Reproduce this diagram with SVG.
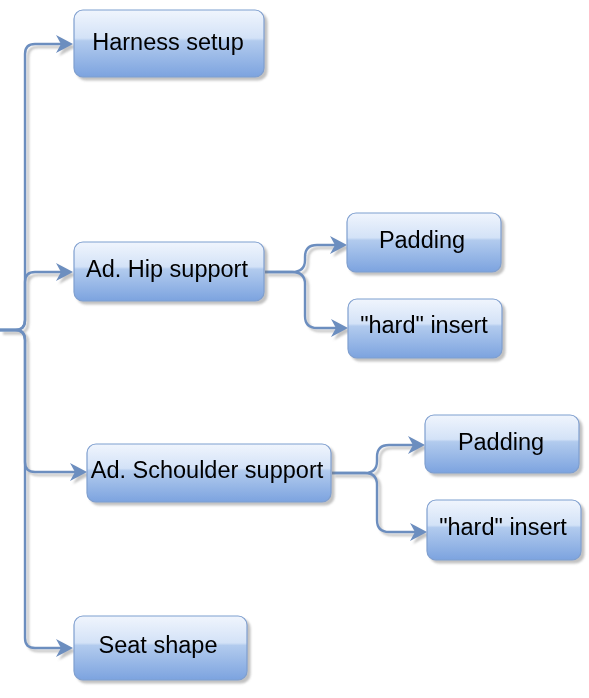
<svg xmlns="http://www.w3.org/2000/svg" width="589" height="698" viewBox="0 0 589 698">
  <style>
    .box { fill: url(#glass); stroke: #7f9fcf; stroke-width: 1.2; }
    .lbl { font-family: "Liberation Sans", Arial, Helvetica, sans-serif; font-size: 23.5px; fill: #000; text-anchor: middle; }
    .edge { fill: none; stroke: #6c8ebf; stroke-width: 2.4; marker-end: url(#arrow); }
  </style>
  <defs>
    <linearGradient id="glass" x1="0" y1="0" x2="0" y2="1">
      <stop offset="0" stop-color="#f0f5fd"/>
      <stop offset="0.42" stop-color="#d3e2f7"/>
      <stop offset="0.46" stop-color="#b2cbee"/>
      <stop offset="1" stop-color="#7ca3df"/>
    </linearGradient>
    <filter id="shadow" x="-10%" y="-10%" width="130%" height="130%">
      <feDropShadow dx="3" dy="3" stdDeviation="1.2" flood-color="#777" flood-opacity="0.45"/>
    </filter>
    <filter id="lineShadow" x="-10%" y="-10%" width="130%" height="130%">
      <feDropShadow dx="3" dy="3" stdDeviation="0.8" flood-color="#888" flood-opacity="0.5"/>
    </filter>
    <marker id="arrow" markerUnits="userSpaceOnUse" markerWidth="20" markerHeight="20" refX="8" refY="9" orient="auto">
      <path d="M0,0 L17,9 L0,18 L5,9 z" fill="#6c8ebf"/>
    </marker>
  </defs>

  <g id="connectors" filter="url(#lineShadow)">
    <path class="edge" d="M0,330 H15 Q25,330 25,320 V54 Q25,44 35,44 H64"/>
    <path class="edge" d="M0,330 H15 Q25,330 25,320 V282 Q25,272 35,272 H64"/>
    <path class="edge" d="M0,330 H15 Q25,330 25,340 V462 Q25,472 35,472 H78"/>
    <path class="edge" d="M0,330 H15 Q25,330 25,340 V638 Q25,648 35,648 H64"/>
    <path class="edge" d="M265,272 H292 Q305,272 305,260 V257 Q305,245 317,245 H338"/>
    <path class="edge" d="M265,272 H292 Q305,272 305,284 V316 Q305,328 317,328 H339"/>
    <path class="edge" d="M332,473 H365 Q377,473 377,461 V457 Q377,445 389,445 H416"/>
    <path class="edge" d="M332,473 H365 Q377,473 377,485 V520 Q377,532 389,532 H418"/>
  </g>

  <g id="harness-setup" filter="url(#shadow)">
    <rect class="box" x="74" y="10" width="190" height="67" rx="9"/>
    <text class="lbl" x="168" y="50">Harness setup</text>
  </g>
  <g id="hip-support" filter="url(#shadow)">
    <rect class="box" x="74" y="242" width="190" height="59" rx="9"/>
    <text class="lbl" x="167" y="277">Ad. Hip support</text>
  </g>
  <g id="hip-padding" filter="url(#shadow)">
    <rect class="box" x="347" y="213" width="154" height="59" rx="9"/>
    <text class="lbl" x="422" y="248">Padding</text>
  </g>
  <g id="hip-hard-insert" filter="url(#shadow)">
    <rect class="box" x="348" y="299" width="154" height="59" rx="9"/>
    <text class="lbl" x="424" y="333">"hard" insert</text>
  </g>
  <g id="schoulder-support" filter="url(#shadow)">
    <rect class="box" x="87" y="444" width="244" height="58" rx="9"/>
    <text class="lbl" x="207" y="478">Ad. Schoulder support</text>
  </g>
  <g id="schoulder-padding" filter="url(#shadow)">
    <rect class="box" x="425" y="415" width="154" height="58" rx="9"/>
    <text class="lbl" x="501" y="450">Padding</text>
  </g>
  <g id="schoulder-hard-insert" filter="url(#shadow)">
    <rect class="box" x="427" y="500" width="154" height="60" rx="9"/>
    <text class="lbl" x="503" y="535">"hard" insert</text>
  </g>
  <g id="seat-shape" filter="url(#shadow)">
    <rect class="box" x="74" y="616" width="173" height="64" rx="9"/>
    <text class="lbl" x="158" y="653">Seat shape</text>
  </g>
</svg>
